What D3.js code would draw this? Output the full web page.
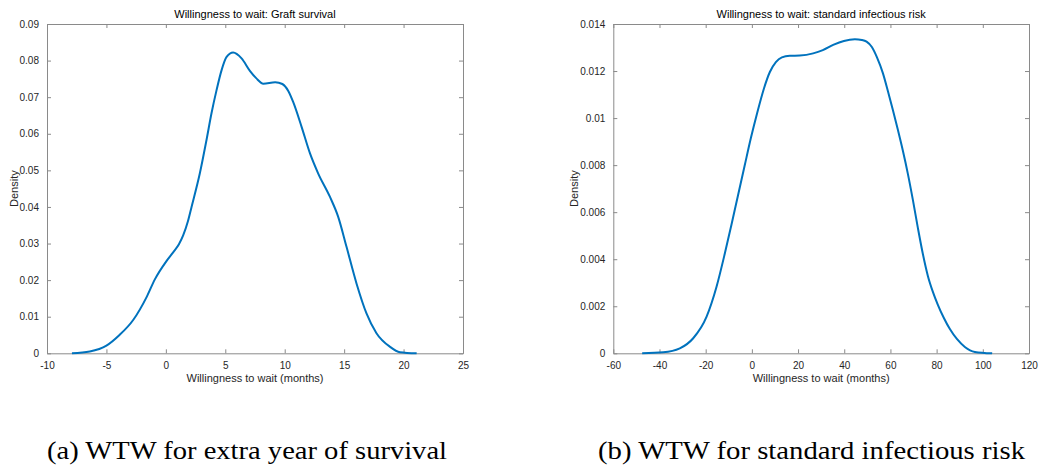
<!DOCTYPE html>
<html>
<head>
<meta charset="utf-8">
<script src="https://d3js.org/d3.v7.min.js"></script>
<style>
  body { margin: 0; background: #fff; }
  svg { display: block; font-family: "Liberation Sans", Arial, sans-serif; }
</style>
</head>
<body>
<svg id="chart"></svg>
<script>
// Graft survival density curve (months, density)
const survivalX = [-7.9, -6.4, -5.0, -3.9, -2.75, -1.6, -0.925, 0.05, 0.614, 1.1, 1.455, 1.85, 2.162, 2.86, 3.42, 3.84, 4.27, 4.69, 5.11, 5.66, 6.37, 7.07, 7.6, 8.2, 9.2, 9.8, 10.3, 10.71, 11.42, 12.12, 12.81, 13.8, 14.5, 15.2, 16.04, 16.88, 17.72, 18.85, 19.7, 21.1];
const survivalY = [0, 0.0005, 0.0021, 0.005, 0.0091, 0.0155, 0.0202, 0.0252, 0.0276, 0.0298, 0.0322, 0.036, 0.04, 0.0492, 0.0583, 0.0656, 0.072, 0.0774, 0.081, 0.0822, 0.0806, 0.0772, 0.0752, 0.0737, 0.0741, 0.0736, 0.0717, 0.0687, 0.0619, 0.0547, 0.0492, 0.0428, 0.0373, 0.0291, 0.0191, 0.0109, 0.0055, 0.0018, 0.0003, 0];

// Standard infectious risk density curve
const riskX = [-47.5, -38.4, -31.2, -25.4, -19.6, -15.3, -11.69, -8.79, -6.06, -3.16, -0.43, 2.38, 5.2, 7.79, 10.39, 12.99, 16.45, 20.78, 26.54, 30.74, 35.2, 39.84, 44.6, 47.63, 49.67, 51.96, 54.13, 56.73, 58.89, 61.06, 63.22, 65.39, 67.55, 69.72, 71.88, 74.05, 76.21, 78.38, 80.54, 83.14, 85.74, 88.77, 92.23, 96.56, 104.05];
const riskY = [0, 0.00004, 0.00021, 0.00064, 0.00156, 0.00283, 0.00425, 0.00549, 0.00669, 0.00796, 0.00915, 0.01025, 0.01125, 0.01196, 0.01238, 0.01258, 0.01265, 0.01266, 0.01275, 0.01289, 0.01311, 0.01328, 0.01335, 0.01332, 0.01325, 0.01302, 0.01259, 0.01191, 0.01115, 0.01034, 0.0095, 0.00861, 0.00763, 0.00652, 0.00533, 0.00422, 0.00329, 0.00261, 0.00206, 0.0015, 0.00103, 0.00061, 0.00027, 0.00006, 0];

// tick labels
const survivalXTicks = [-10, -5, 0, 5, 10, 15, 20, 25];
const survivalYTicks = [0, 0.01, 0.02, 0.03, 0.04, 0.05, 0.06, 0.07, 0.08, 0.09];
const riskXTicks = [-60, -40, -20, 0, 20, 40, 60, 80, 100, 120];
const riskYTicks = [0, 0.002, 0.004, 0.006, 0.008, 0.01, 0.012, 0.014];

const titles = ["Willingness to wait: Graft survival", "Willingness to wait: standard infectious risk"];
const captions = ["(a) WTW for extra year of survival", "(b) WTW for standard infectious risk"];
const xLabel = "Willingness to wait (months)";
const yLabel = "Density";

const width = 1041;
const height = 465;
const lineColor = "#0072BD";
const axisColor = "#8a8a8a";
const textColor = "#262626";

const svg = d3.select("svg#chart")
  .attr("width", width)
  .attr("height", height)
  .attr("viewBox", [0, 0, width, height]);

function drawPanel(opts) {
  const { left, right, top, bottom, xs, ys, xTicks, yTicks, title, caption, captionWidth } = opts;

  const x = d3.scaleLinear([xTicks[0], xTicks[xTicks.length - 1]], [left, right]);
  const y = d3.scaleLinear([yTicks[0], yTicks[yTicks.length - 1]], [bottom, top]);
  const fmt = d => String(d);

  const styleAxis = g => {
    g.selectAll(".domain").attr("stroke", axisColor);
    g.selectAll(".tick line").attr("stroke", axisColor);
    g.selectAll(".tick text").attr("fill", textColor).style("font-size", "10px");
  };

  // bottom axis, ticks point inward like matlab
  svg.append("g")
    .attr("transform", `translate(0,${bottom})`)
    .call(d3.axisBottom(x).tickValues(xTicks).tickFormat(fmt).tickSizeInner(-4).tickSizeOuter(0).tickPadding(9))
    .call(styleAxis);

  svg.append("g")
    .attr("transform", `translate(0,${top})`)
    .call(d3.axisTop(x).tickValues(xTicks).tickFormat("").tickSizeInner(-4).tickSizeOuter(0))
    .call(styleAxis);

  svg.append("g")
    .attr("transform", `translate(${left},0)`)
    .call(d3.axisLeft(y).tickValues(yTicks).tickFormat(fmt).tickSizeInner(-4).tickSizeOuter(0).tickPadding(8))
    .call(styleAxis);

  svg.append("g")
    .attr("transform", `translate(${right},0)`)
    .call(d3.axisRight(y).tickValues(yTicks).tickFormat("").tickSizeInner(-4).tickSizeOuter(0))
    .call(styleAxis);

  // Title
  svg.append("text")
    .attr("x", (left + right) / 2)
    .attr("y", top - 6)
    .attr("text-anchor", "middle")
    .attr("fill", "#000")
    .style("font-size", "11px")
    .text(title);

  // x label
  svg.append("text")
    .attr("x", (left + right) / 2)
    .attr("y", bottom + 29)
    .attr("text-anchor", "middle")
    .attr("fill", textColor)
    .style("font-size", "11px")
    .text(xLabel);

  // y label
  svg.append("text")
    .attr("transform", `translate(${opts.yLabelX},${(top + bottom) / 2}) rotate(-90)`)
    .attr("text-anchor", "middle")
    .attr("fill", textColor)
    .style("font-size", "11px")
    .text(yLabel);

  const pts = xs.map((d, i) => [d, ys[i]]);
  const line = d3.line()
    .x(d => x(d[0]))
    .y(d => y(d[1]))
    .curve(d3.curveMonotoneX);

  svg.append("path")
    .attr("fill", "none")
    .attr("stroke", lineColor)
    .attr("stroke-width", 2)
    .attr("stroke-linejoin", "round")
    .attr("d", line(pts));

  // figure caption (serif)
  svg.append("text")
    .attr("x", opts.captionX)
    .attr("y", 459)
    .attr("textLength", captionWidth)
    .attr("lengthAdjust", "spacingAndGlyphs")
    .attr("fill", "#000")
    .style("font-family", "'Liberation Serif', 'DejaVu Serif', serif")
    .style("font-size", "26px")
    .text(caption);
}

drawPanel({
  left: 47, right: 463, top: 24, bottom: 353.3,
  xs: survivalX, ys: survivalY,
  xTicks: survivalXTicks, yTicks: survivalYTicks,
  title: titles[0], caption: captions[0],
  captionX: 47, captionWidth: 400, yLabelX: 18
});

drawPanel({
  left: 613.3, right: 1029, top: 24, bottom: 353.3,
  xs: riskX, ys: riskY,
  xTicks: riskXTicks, yTicks: riskYTicks,
  title: titles[1], caption: captions[1],
  captionX: 598, captionWidth: 427, yLabelX: 578
});
</script>
</body>
</html>
